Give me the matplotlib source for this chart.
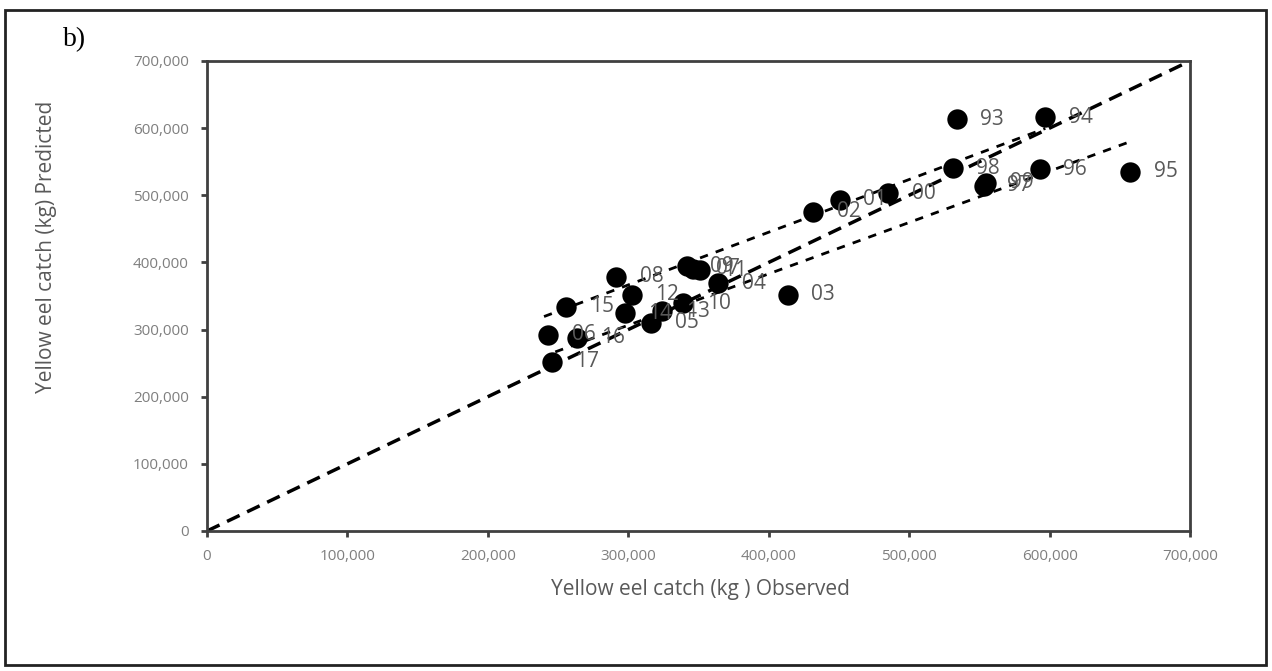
import numpy as np
import matplotlib
matplotlib.use("Agg")
import matplotlib.pyplot as plt
from matplotlib.ticker import FuncFormatter, MultipleLocator
from matplotlib.patches import Rectangle

plt.rcParams['font.family'] = ['Open Sans', 'DejaVu Sans']
plt.rcParams['lines.scale_dashes'] = False

# yellow eel catch, observed vs predicted (kg)
years = ['93', '94', '95', '96', '97', '98', '99', '00', '01', '02', '03', '04', '05',
         '06', '07', '08', '09', '10', '11', '12', '13', '14', '15', '16', '17']
observed = [534000, 597000, 657500, 593000, 553000, 531000, 555000, 485000, 450500, 431500,
            413500, 364000, 316500, 243000, 346000, 291500, 341500, 339000, 351000, 302500,
            324000, 297500, 256000, 263500, 245500]
predicted = [613500, 616500, 535000, 538500, 514000, 540000, 518500, 503000, 493000, 475500,
             351500, 369000, 310000, 292000, 390500, 379000, 394000, 339000, 388500, 351500,
             327000, 324000, 334000, 287500, 252000]

# fitted lines: [x start, x end], slope, intercept
one_to_one = [0, 700000]
fit_a_x = [240000, 597000]
fit_a_slope, fit_a_icpt = 0.785, 131000
fit_b_x = [248000, 660000]
fit_b_slope, fit_b_icpt = 0.765, 77000

grey = '#595959'

fig = plt.figure(figsize=(12.72, 6.71), dpi=100)
ax = fig.add_axes([207 / 1272, 1 - 531 / 671, 983 / 1272, 470 / 671])

ax.plot(one_to_one, one_to_one, color='black', lw=2.5, dashes=(10, 6), zorder=2)
xa = np.array(fit_a_x)
ax.plot(xa, fit_a_slope * xa + fit_a_icpt, color='black', lw=2, dashes=(6, 6), zorder=2)
xb = np.array(fit_b_x)
ax.plot(xb, fit_b_slope * xb + fit_b_icpt, color='black', lw=2, dashes=(6, 6), zorder=2)

ax.scatter(observed, predicted, s=215, color='black', zorder=3, linewidths=0)
for yr, xo, yp in zip(years, observed, predicted):
    ax.annotate(yr, (xo, yp), xytext=(17, 0), textcoords='offset points',
                va='center', ha='left', fontsize=15, color=grey, zorder=4)

ax.set_xlim(0, 700000)
ax.set_ylim(0, 700000)
ax.xaxis.set_major_locator(MultipleLocator(100000))
ax.yaxis.set_major_locator(MultipleLocator(100000))
fmt = FuncFormatter(lambda v, p: '{:,.0f}'.format(v))
ax.xaxis.set_major_formatter(fmt)
ax.yaxis.set_major_formatter(fmt)
ax.tick_params(length=4, width=2, color='#404040', labelsize=11, labelcolor='#7f7f7f', pad=9)
for sp in ax.spines.values():
    sp.set_color('#404040')
    sp.set_linewidth(2)

fig.text(700 / 1272, 1 - 590 / 671, 'Yellow eel catch (kg ) Observed', ha='center', va='center',
         fontsize=15, color=grey)
fig.text(47 / 1272, 1 - 247 / 671, 'Yellow eel catch (kg) Predicted', ha='center', va='center',
         rotation=90, fontsize=15, color=grey)
fig.text(75 / 1272, 1 - 40 / 671, 'b)', ha='center', va='center', fontsize=20,
         family='Liberation Serif', color='black')

fig.patches.append(Rectangle((5 / 1272, 6 / 671), 1261 / 1272, 655 / 671,
                             transform=fig.transFigure, fill=False, lw=2, edgecolor='#222222'))

fig.savefig('out.png', dpi=100)
